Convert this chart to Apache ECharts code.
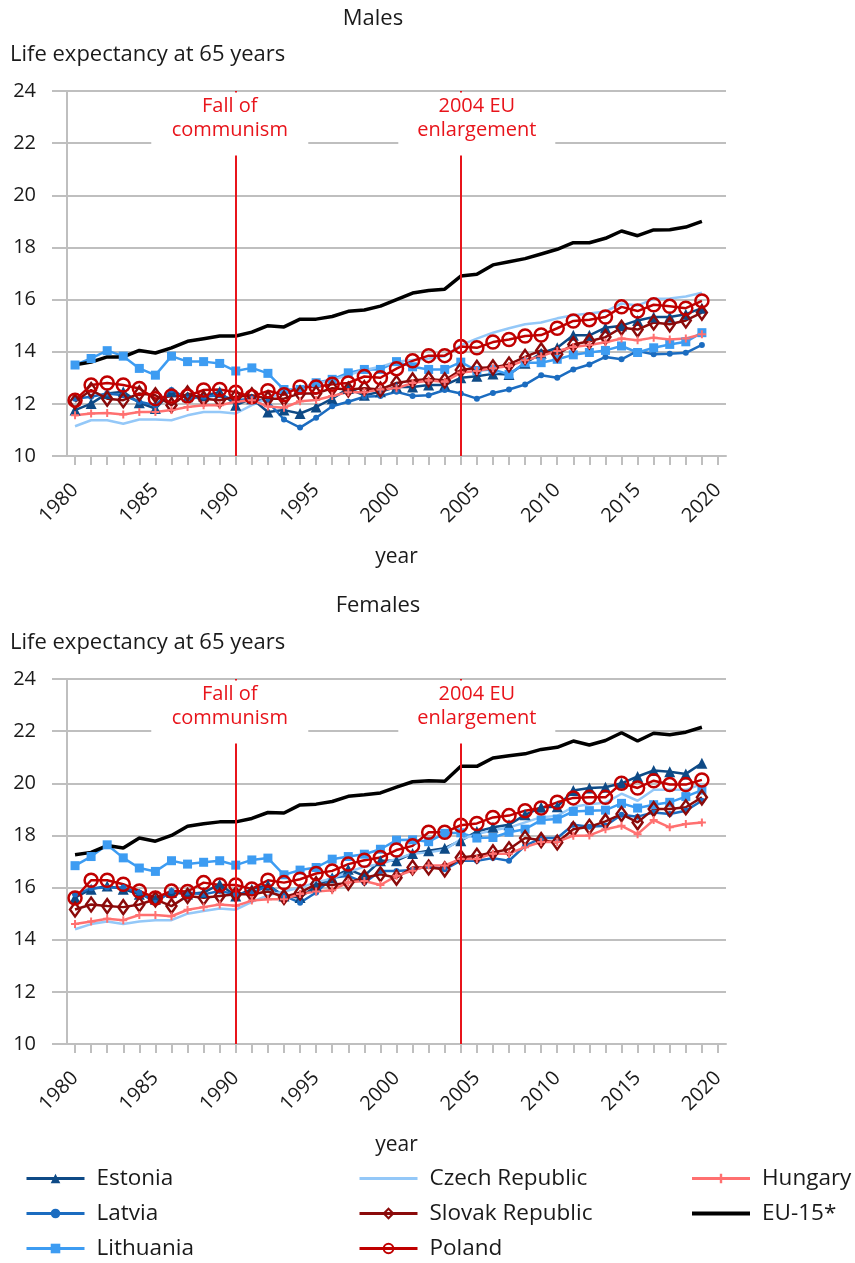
<!DOCTYPE html>
<html>
<head>
<meta charset="utf-8">
<title>Life expectancy at 65</title>
<script src="https://cdn.jsdelivr.net/npm/echarts@6/dist/echarts.min.js"></script>
<style>
html,body{margin:0;padding:0;background:#fff}
#chart{width:855px;height:1263px}
</style>
</head>
<body>
<div id="chart"></div>
<script>
// years on the axis (2020 only carries the last tick)
var years = ['1980','1981','1982','1983','1984','1985','1986','1987','1988','1989',
	'1990','1991','1992','1993','1994','1995','1996','1997','1998','1999',
	'2000','2001','2002','2003','2004','2005','2006','2007','2008','2009',
	'2010','2011','2012','2013','2014','2015','2016','2017','2018','2019','2020'];

// males, 1980-2019
var estoniaM = [11.76,12.01,12.4,12.46,12.04,11.82,12.46,12.27,12.3,12.46,11.95,12.2,11.69,11.76,11.63,11.88,12.2,12.59,12.33,12.46,12.65,12.65,12.72,12.72,13.0,13.06,13.15,13.13,13.56,13.94,14.15,14.63,14.63,14.92,15.0,15.2,15.33,15.33,15.44,15.67];
var latviaM = [12.2,12.27,12.4,12.33,12.08,11.95,12.53,12.2,12.27,12.33,12.14,12.2,12.08,11.4,11.09,11.47,11.91,12.08,12.27,12.3,12.46,12.3,12.33,12.53,12.4,12.2,12.42,12.55,12.74,13.1,13.0,13.32,13.51,13.8,13.71,14.03,13.9,13.92,13.96,14.26];
var lithuaniaM = [13.49,13.74,14.04,13.83,13.36,13.1,13.83,13.62,13.62,13.55,13.26,13.38,13.17,12.55,12.55,12.81,12.94,13.19,13.32,13.32,13.62,13.42,13.32,13.32,13.6,13.28,13.32,13.13,13.58,13.58,13.71,13.88,13.97,14.05,14.22,13.97,14.15,14.28,14.38,14.73];
var czechM = [11.14,11.37,11.37,11.24,11.4,11.4,11.37,11.56,11.69,11.69,11.63,11.95,12.2,12.46,12.55,12.78,12.91,13.1,13.3,13.42,13.62,13.68,13.74,13.83,14.25,14.5,14.73,14.9,15.05,15.12,15.28,15.4,15.47,15.54,15.85,15.77,16.03,16.04,16.12,16.26];
var slovakM = [12.08,12.53,12.2,12.14,12.4,12.33,11.95,12.4,12.2,12.14,12.27,12.33,12.2,12.2,12.4,12.4,12.6,12.55,12.6,12.55,12.8,12.9,12.95,12.9,13.3,13.38,13.4,13.51,13.8,14.05,13.9,14.28,14.4,14.56,14.92,14.85,15.12,15.05,15.2,15.5];
var polandM = [12.14,12.72,12.8,12.72,12.59,12.2,12.3,12.3,12.53,12.55,12.45,12.27,12.5,12.35,12.65,12.65,12.75,12.8,13.05,13.0,13.35,13.65,13.85,13.85,14.2,14.15,14.37,14.47,14.6,14.64,14.9,15.18,15.23,15.33,15.72,15.56,15.8,15.74,15.67,15.95];
var hungaryM = [11.56,11.63,11.65,11.59,11.69,11.69,11.76,11.88,11.95,11.95,12.08,12.14,11.9,11.85,12.1,12.15,12.3,12.45,12.45,12.55,12.6,12.8,12.9,12.85,13.2,13.26,13.37,13.45,13.67,13.83,14.03,14.18,14.26,14.36,14.51,14.44,14.54,14.47,14.51,14.67];
var eu15M = [13.5,13.6,13.8,13.8,14.05,13.95,14.15,14.4,14.5,14.6,14.6,14.75,15.0,14.95,15.25,15.25,15.35,15.55,15.6,15.75,16.0,16.25,16.35,16.4,16.9,16.97,17.33,17.45,17.57,17.75,17.93,18.18,18.18,18.35,18.63,18.45,18.67,18.68,18.78,19.0];

// females, 1980-2019
var estoniaF = [15.61,15.94,16.06,15.94,15.74,15.55,15.81,15.75,15.81,16.13,15.68,15.94,16.1,15.68,15.62,16.06,16.38,16.7,16.45,17.03,17.03,17.31,17.41,17.51,17.8,18.15,18.31,18.41,18.79,19.08,19.1,19.72,19.82,19.85,20.0,20.26,20.49,20.44,20.36,20.77];
var latviaF = [15.74,15.97,16.0,16.0,15.81,15.42,15.87,15.81,15.74,15.87,15.74,15.8,16.06,15.68,15.42,15.81,16.38,16.45,16.19,16.64,16.64,16.67,16.83,16.7,17.03,17.03,17.13,17.03,17.6,17.9,17.9,18.41,18.33,18.37,18.79,18.72,18.88,18.82,18.95,19.33];
var lithuaniaF = [16.84,17.19,17.64,17.14,16.75,16.62,17.03,16.9,16.97,17.03,16.86,17.06,17.13,16.49,16.67,16.77,17.09,17.19,17.28,17.47,17.82,17.83,17.76,18.08,18.1,17.9,17.92,18.12,18.24,18.59,18.63,18.92,18.95,18.97,19.23,19.05,19.18,19.27,19.49,19.74];
var czechF = [14.4,14.6,14.7,14.6,14.7,14.75,14.75,15.0,15.1,15.2,15.15,15.45,15.7,15.85,16.0,16.2,16.35,16.6,16.8,16.9,17.1,17.3,17.35,17.45,17.85,18.05,18.2,18.3,18.5,18.7,18.75,19.1,19.2,19.25,19.6,19.33,19.75,19.75,19.75,19.97];
var slovakF = [15.16,15.35,15.29,15.25,15.35,15.55,15.29,15.68,15.61,15.68,15.74,15.74,15.85,15.64,15.81,16.13,16.1,16.19,16.38,16.51,16.38,16.77,16.77,16.7,17.15,17.22,17.35,17.47,17.9,17.82,17.73,18.24,18.33,18.54,18.82,18.5,19.01,19.01,19.08,19.46];
var polandF = [15.6,16.28,16.28,16.13,15.87,15.6,15.87,15.85,16.19,16.1,16.1,15.95,16.28,16.19,16.32,16.54,16.64,16.9,17.05,17.15,17.44,17.6,18.12,18.12,18.39,18.46,18.69,18.76,18.95,19.05,19.27,19.44,19.46,19.46,20.0,19.82,20.1,19.95,19.95,20.13];
var hungaryF = [14.6,14.7,14.8,14.75,14.95,14.95,14.9,15.15,15.25,15.35,15.3,15.5,15.55,15.55,15.75,15.85,15.9,16.2,16.25,16.1,16.45,16.65,16.85,16.85,17.1,17.1,17.3,17.3,17.55,17.75,17.75,17.99,18.0,18.24,18.37,18.05,18.59,18.31,18.44,18.5];
var eu15F = [17.26,17.35,17.61,17.52,17.9,17.78,18.0,18.35,18.45,18.52,18.52,18.65,18.88,18.86,19.17,19.2,19.3,19.5,19.56,19.63,19.85,20.06,20.1,20.08,20.65,20.65,20.97,21.06,21.13,21.3,21.38,21.62,21.47,21.64,21.94,21.62,21.92,21.86,21.96,22.15];

// events marked on both charts
var eventYears = ['1990','2004'];
var eventLabels = ['Fall of\ncommunism','2004 EU\nenlargement'];
var eventShift = [-6, 16];   // label boxes are not quite centred on the lines

var FONT = 'Open Sans';
var GRAY = '#bfbfbf';
var INK = '#1a1a1a';
var EVENT_RED = '#e8141b';
var HOLLOW = 'rgba(255,255,255,0)';

var countries = [
	{name:'Estonia', color:'#0e4a86', symbol:'triangle', size:11},
	{name:'Latvia', color:'#1b6cc0', symbol:'circle', size:6},
	{name:'Lithuania', color:'#3d9cf2', symbol:'rect', size:9},
	{name:'Czech Republic', color:'#94c8f8', symbol:'none', size:0},
	{name:'Slovak Republic', color:'#8b0a0a', symbol:'diamond', size:[10,14], hollow:true},
	{name:'Poland', color:'#c00000', symbol:'circle', size:13, hollow:true},
	{name:'Hungary', color:'#ff7070', symbol:'path://M3,0h2v3h3v2h-3v3h-2v-3h-3v-2h3z', size:8},
	{name:'EU-15*', color:'#000000', symbol:'none', size:0}
];
var males = [estoniaM, latviaM, lithuaniaM, czechM, slovakM, polandM, hungaryM, eu15M];
var females = [estoniaF, latviaF, lithuaniaF, czechF, slovakF, polandF, hungaryF, eu15F];

function makeSeries(idx, values){
	var list = countries.map(function(c, i){
		return {
			name: c.name, type: 'line', xAxisIndex: idx, yAxisIndex: idx,
			data: values[i], symbol: c.symbol, symbolSize: c.size,
			showSymbol: c.symbol !== 'none', showAllSymbol: true,
			color: c.color,
			lineStyle: {color: c.color, width: c.name === 'EU-15*' ? 3.5 : 2.5},
			itemStyle: {color: c.hollow ? HOLLOW : c.color, borderColor: c.color, borderWidth: c.hollow ? 2.5 : 0},
			emphasis: {disabled: true},
			animation: false
		};
	});
	// red event lines + white label boxes
	list.push({
		type: 'line', xAxisIndex: idx, yAxisIndex: idx, data: [], silent: true, animation: false,
		markLine: {
			symbol: 'none', silent: true, animation: false,
			lineStyle: {color: EVENT_RED, width: 2, type: 'solid'},
			label: {show: false},
			data: eventYears.map(function(y){ return [{coord:[y,10]},{coord:[y,24]}]; })
		},
		markPoint: {
			z: 10, silent: true, animation: false,
			symbol: 'rect', symbolSize: [157, 63],
			itemStyle: {color: '#fff'},
			label: {show: true, position: 'inside', offset: [0, -6], formatter: '{b}',
				color: EVENT_RED, fontSize: 20, lineHeight: 24, fontFamily: FONT},
			data: eventYears.map(function(y, i){
				return {name: eventLabels[i], coord: [y, 22.73], symbolOffset: [eventShift[i], 0]};
			})
		}
	});
	return list;
}

function xAxisCfg(idx){
	return {
		type: 'category', gridIndex: idx, data: years, boundaryGap: true, position: 'bottom',
		axisLine: {lineStyle: {color: GRAY, width: 2}},
		axisTick: {alignWithLabel: true, interval: 4, length: 16, lineStyle: {color: GRAY, width: 2}},
		axisLabel: {interval: 4, rotate: 45, fontSize: 20, color: INK, margin: 31, fontFamily: FONT},
		name: 'year', nameLocation: 'middle', nameGap: 91,
		nameTextStyle: {fontSize: 21, color: INK, fontFamily: FONT}
	};
}
// second axis only for the short yearly ticks, on the same bottom line
function minorAxisCfg(idx){
	return {
		type: 'category', gridIndex: idx, data: years, boundaryGap: true,
		position: 'bottom', offset: 0,
		axisLine: {show: false},
		axisTick: {show: true, alignWithLabel: true, interval: 0, length: 9, lineStyle: {color: GRAY, width: 2}},
		axisLabel: {show: false},
		splitLine: {show: false}
	};
}
function yAxisCfg(idx){
	return {
		type: 'value', gridIndex: idx, min: 10, max: 24, interval: 2,
		axisLine: {show: true, lineStyle: {color: GRAY, width: 2}},
		axisTick: {show: true, length: 15, lineStyle: {color: GRAY, width: 2}},
		splitLine: {lineStyle: {color: GRAY, width: 2}},
		axisLabel: {fontSize: 20, color: INK, margin: 31, fontFamily: FONT}
	};
}
function legendItem(name){
	// lines without markers: hide the default dot in the legend icon
	if (name === 'Czech Republic') {
		return {name: name, itemStyle: {opacity: 0}};
	}
	if (name === 'EU-15*') {
		return {name: name, itemStyle: {opacity: 0}, lineStyle: {width: 4}};
	}
	return {name: name};
}
function legendCfg(left, names){
	return {
		orient: 'vertical', left: left, top: 1167, height: 110, padding: 0,
		itemWidth: 58, itemHeight: 12, itemGap: 12,
		data: names.map(legendItem), selectedMode: false,
		lineStyle: {width: 3},
		textStyle: {fontSize: 22.5, color: INK, fontFamily: FONT, lineHeight: 22, padding: [0,0,0,7]}
	};
}
function textTitle(txt, left, top, align){
	return {text: txt, left: left, top: top, textAlign: align, padding: 0,
		textStyle: {fontSize: 22, fontWeight: 'normal', color: INK, fontFamily: FONT}};
}

var myChart = echarts.init(document.getElementById('chart'));
var option = {
	backgroundColor: '#fff',
	animation: false,
	textStyle: {fontFamily: FONT},
	title: [
		textTitle('Males', 373, 8, 'center'),
		textTitle('Life expectancy at 65 years', 10, 44, 'left'),
		textTitle('Females', 378, 595, 'center'),
		textTitle('Life expectancy at 65 years', 10, 632, 'left')
	],
	legend: [
		legendCfg(25, ['Estonia','Latvia','Lithuania']),
		legendCfg(358, ['Czech Republic','Slovak Republic','Poland']),
		legendCfg(690, ['Hungary','EU-15*'])
	],
	grid: [
		{left: 67, right: 129, top: 91, height: 365},
		{left: 67, right: 129, top: 679, height: 365}
	],
	xAxis: [xAxisCfg(0), xAxisCfg(1), minorAxisCfg(0), minorAxisCfg(1)],
	yAxis: [yAxisCfg(0), yAxisCfg(1)],
	series: makeSeries(0, males).concat(makeSeries(1, females))
};
if (option && typeof option === 'object') {
	myChart.setOption(option, true);
}
</script>
</body>
</html>
